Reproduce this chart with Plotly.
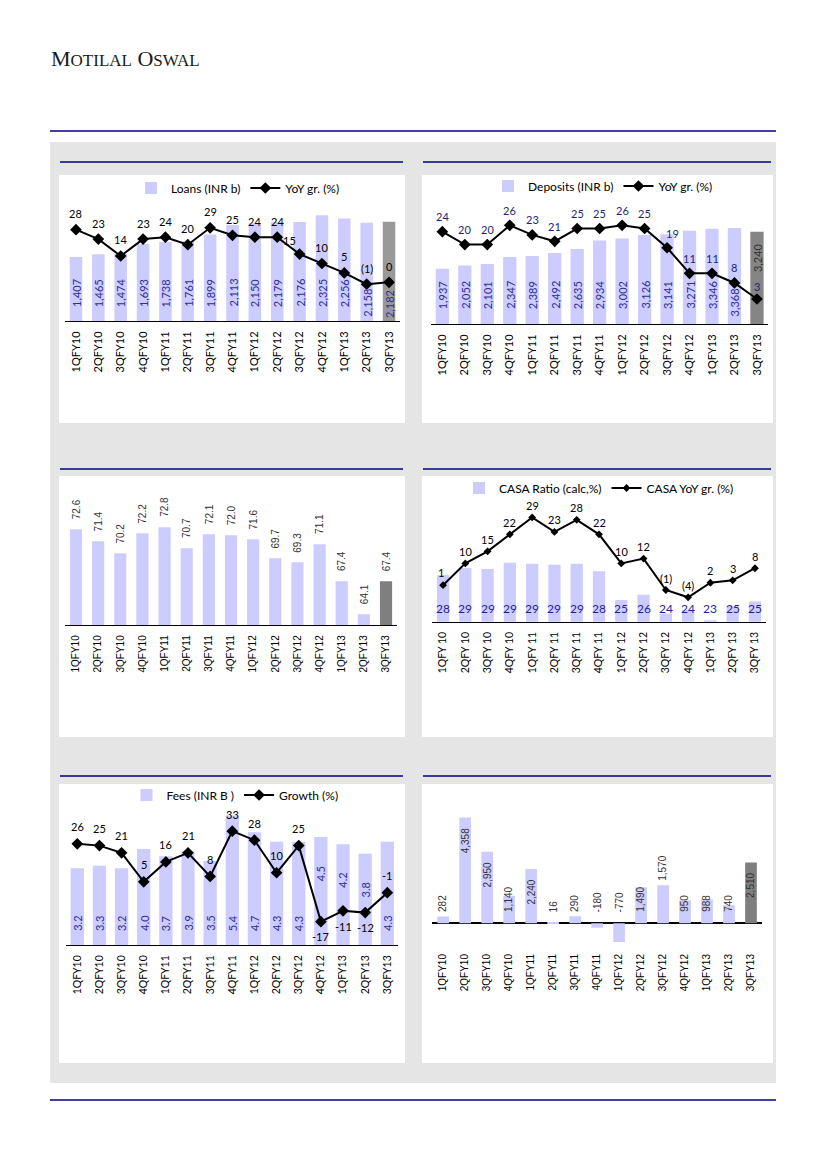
import plotly.graph_objects as go

OFF = 8            # browser body margin
W, H = 826 - 16, 1169 - 16


def fx(v):
    return (v - OFF) / W


def fy(v):
    return 1 - (v - OFF) / H


# ---------------- data ----------------
quarters = ["1QFY10", "2QFY10", "3QFY10", "4QFY10", "1QFY11", "2QFY11", "3QFY11", "4QFY11",
            "1QFY12", "2QFY12", "3QFY12", "4QFY12", "1QFY13", "2QFY13", "3QFY13"]
casa_quarters = ["1QFY 10", "2QFY 10", "3QFY 10", "4QFY 10", "1QFY 11", "2QFY 11", "3QFY 11", "4QFY 11",
                 "1QFY 12", "2QFY 12", "3QFY 12", "4QFY 12", "1QFY 13", "2QFY 13", "3QFY 13"]

loans = [1407, 1465, 1474, 1693, 1738, 1761, 1899, 2113, 2150, 2179, 2176, 2325, 2256, 2158, 2182]
loans_yoy = [28, 23, 14, 23, 24, 20, 29, 25, 24, 24, 15, 10, 5, -1, 0]

deposits = [1937, 2052, 2101, 2347, 2389, 2492, 2635, 2934, 3002, 3126, 3141, 3271, 3346, 3368, 3240]
deposits_yoy = [24, 20, 20, 26, 23, 21, 25, 25, 26, 25, 19, 11, 11, 8, 3]

cd_ratio = [72.6, 71.4, 70.2, 72.2, 72.8, 70.7, 72.1, 72.0, 71.6, 69.7, 69.3, 71.1, 67.4, 64.1, 67.4]

casa_ratio = [28.0, 28.75, 28.65, 29.3, 29.2, 29.1, 29.2, 28.4, 25.35, 25.9, 23.9, 24.3, 23.2, 24.7, 25.2]
casa_yoy = [1, 10, 15, 22, 29, 23, 28, 22, 10, 12, -1, -4, 2, 3, 8]

fees = [3.2, 3.3, 3.2, 4.0, 3.7, 3.9, 3.5, 5.4, 4.7, 4.3, 4.3, 4.5, 4.2, 3.8, 4.3]
fees_growth = [26, 25, 21, 5, 16, 21, 8, 33, 28, 10, 25, -17, -11, -12, -1]

panel6_vals = [282, 4358, 2950, 1140, 2240, 16, 290, -180, -770, 1490, 1570, 950, 988, 740, 2510]

# ---------------- styles ----------------
LAV = "#ccccff"
NAVY = "#000080"
LBL_BLUE = "#2e2e99"
CAL = "Lato"
ARI = "Liberation Sans"

N = len(quarters)
loans_colors = [LAV] * (N - 1) + ["#999999"]
dep_colors = [LAV] * (N - 1) + ["#858585"]
cd_colors = [LAV] * (N - 1) + ["#7f7f7f"]
p6_colors = [LAV] * (N - 1) + ["#7f7f7f"]
fees_colors = [LAV] * N
casa_colors = [LAV] * N

# bar-label placement styles: "base" (inside at base), "end" (inside at top), "mid" (upper part)
loans_place = ["base"] * N
dep_place = ["base"] * (N - 1) + ["end"]
fees_place = ["base"] * 11 + ["mid", "mid", "mid", "base"]
p6_place = ["base", "end", "end", "base", "end", "base", "base", "base", "base", "base", "out",
            "base", "base", "base", "end"]
dep_lbl_colors = [LBL_BLUE] * (N - 1) + ["#333333"]

# base-label offsets above the baseline (px)
loans_base = [12] * 13 + [2, 1]
dep_base = [13] * 13 + [6, 13]
fees_base = [12] * N
casa_base = [4] * N
p6_base = [9] * N

# line-label offsets (px)
loans_dx = [0] * 10 + [-10] + [0] * 4
loans_dy = [16] * 10 + [14] + [16] * 4
dep_dx = [0] * 10 + [5] + [0] * 4
dep_dy = [15] * 10 + [14] + [15] * 3 + [12]
casa_dx = [-2] + [0] * 14
casa_dy = [13] + [12] * 14
fees_dx = [0] * N
fees_dy = [17] * 11 + [-15, -16, -15, 17]

fig = go.Figure()
annotations = []

RANGES = {
    "y": [0, 2660], "y2": [-20.6, 43.8],
    "y3": [0, 4351], "y4": [-4.81, 33.9],
    "y5": [63.0, 76.53],
    "y6": [23.04, 35.99], "y7": [-14.09, 36.2],
    "y8": [0, 6.04], "y9": [-29.9, 50.2],
    "y10": [-854, 5497],
}


def paren(v):
    return f"({abs(v)})" if v < 0 else f"{v}"


def bar_trace(xa, ya, cats, vals, colors, width, name=None, legend=None, showlegend=False):
    fig.add_trace(go.Bar(
        x=cats, y=vals, marker=dict(color=colors, line=dict(width=0)), width=width,
        xaxis=xa, yaxis=ya, name=name, legend=legend, showlegend=showlegend,
        cliponaxis=False, hoverinfo="skip"))


def bar_labels(xa, ya, cats, vals, texts, places, colors, font, shifts, angle=-90):
    ref_base = max(RANGES[ya][0], 0)
    for c, v, t, p, col, bs in zip(cats, vals, texts, places, colors, shifts):
        if p == "end":
            y, yanc, ys = v, "top", -9
        elif p == "mid":
            y, yanc, ys = v, "top", -27
        elif p == "out":
            y, yanc, ys = v, "bottom", 2
        elif p == "above":
            y, yanc, ys = v, "bottom", 8
        else:
            y, yanc, ys = ref_base, "bottom", bs
        annotations.append(dict(x=c, y=y, xref=xa, yref=ya, text=t, showarrow=False,
                                textangle=angle, xanchor="center", yanchor=yanc, yshift=ys,
                                font=dict(family=font[0], size=font[1], color=col)))


def line_trace(xa, ya, cats, vals, name, legend, msize=9, lw=2):
    fig.add_trace(go.Scatter(
        x=cats, y=vals, mode="lines+markers", name=name, legend=legend,
        line=dict(color="black", width=lw),
        marker=dict(symbol="diamond", size=msize, color="black"),
        xaxis=xa, yaxis=ya, cliponaxis=False, hoverinfo="skip"))


def line_labels(xa, ya, cats, vals, texts, dxs, dys, color, size=11):
    for c, v, t, dx, dy in zip(cats, vals, texts, dxs, dys):
        annotations.append(dict(x=c, y=v, xref=xa, yref=ya, text=t, showarrow=False,
                                xanchor="center", yanchor="middle", xshift=dx, yshift=dy,
                                font=dict(family=CAL, size=size, color=color)))


# Panel 1: Loans
bar_trace("x", "y", quarters, loans, loans_colors, 0.56, "Loans (INR b)", "legend", True)
bar_labels("x", "y", quarters, loans, [f"{v:,}" for v in loans], loans_place,
           [LBL_BLUE] * N, (CAL, 11), loans_base)
line_trace("x", "y2", quarters, loans_yoy, "YoY gr. (%)", "legend")
line_labels("x", "y2", quarters, loans_yoy, [paren(v) for v in loans_yoy], loans_dx, loans_dy, "black")

# Panel 2: Deposits
bar_trace("x2", "y3", quarters, deposits, dep_colors, 0.59, "Deposits (INR b)", "legend2", True)
bar_labels("x2", "y3", quarters, deposits, [f"{v:,}" for v in deposits], dep_place,
           dep_lbl_colors, (CAL, 11), dep_base)
line_trace("x2", "y4", quarters, deposits_yoy, "YoY gr. (%)", "legend2")
line_labels("x2", "y4", quarters, deposits_yoy, [paren(v) for v in deposits_yoy], dep_dx, dep_dy,
            "#1f1f7a")

# Panel 3: CD ratio
bar_trace("x3", "y5", quarters, cd_ratio, cd_colors, 0.55)
bar_labels("x3", "y5", quarters, cd_ratio, [f"{v:.1f}" for v in cd_ratio], ["above"] * N,
           ["#333333"] * N, (ARI, 10), [0] * N)

# Panel 4: CASA
bar_trace("x4", "y6", casa_quarters, casa_ratio, casa_colors, 0.55, "CASA Ratio (calc,%)",
          "legend3", True)
bar_labels("x4", "y6", casa_quarters, casa_ratio, [f"{v:.0f}" for v in casa_ratio], ["base"] * N,
           ["#1f1f99"] * N, (CAL, 12), casa_base, angle=0)
line_trace("x4", "y7", casa_quarters, casa_yoy, "CASA YoY gr. (%)", "legend3", msize=6, lw=2)
line_labels("x4", "y7", casa_quarters, casa_yoy, [paren(v) for v in casa_yoy], casa_dx, casa_dy,
            "black")

# Panel 5: Fees
bar_trace("x5", "y8", quarters, fees, fees_colors, 0.6, "Fees (INR B )", "legend4", True)
bar_labels("x5", "y8", quarters, fees, [f"{v:.1f}" for v in fees], fees_place,
           [LBL_BLUE] * N, (CAL, 11), fees_base)
line_trace("x5", "y9", quarters, fees_growth, "Growth (%)", "legend4")
line_labels("x5", "y9", quarters, fees_growth, [str(v) for v in fees_growth], fees_dx, fees_dy,
            "black")

# Panel 6
bar_trace("x6", "y10", quarters, panel6_vals, p6_colors, 0.53)
bar_labels("x6", "y10", quarters, panel6_vals, [f"{v:,}" for v in panel6_vals], p6_place,
           ["#333333"] * N, (ARI, 10), p6_base)

# header
annotations.append(dict(
    x=fx(49), y=fy(59), xref="paper", yref="paper", xanchor="left", yanchor="middle",
    showarrow=False,
    text="M<span style='font-size:17px'>OTILAL</span> O<span style='font-size:17px'>SWAL</span>",
    font=dict(family="Liberation Serif", size=22, color="#1a1a1a")))

# ---------------- layout shapes ----------------
shapes = []


def rect(x0, y0, x1, y1, color):
    shapes.append(dict(type="rect", xref="paper", yref="paper", x0=fx(x0), x1=fx(x1),
                       y0=fy(y1), y1=fy(y0), fillcolor=color, line=dict(width=0), layer="below"))


def hline(x0, x1, y, color, w):
    shapes.append(dict(type="line", xref="paper", yref="paper", x0=fx(x0), x1=fx(x1),
                       y0=fy(y), y1=fy(y), line=dict(color=color, width=w), layer="below"))


hline(50, 776, 131, NAVY, 1.5)
rect(50, 142, 776, 1083, "#e5e5e5")
for (t, b) in [(175, 423), (476, 737), (784, 1063)]:
    rect(59, t, 405, b, "white")
    rect(422, t, 773, b, "white")
for y in [162, 469, 776]:
    hline(60, 403, y, NAVY, 1.3)
    hline(423, 771, y, NAVY, 1.3)
hline(50, 776, 1100, NAVY, 1.5)


def xaxis(x0, x1, anchor, font, show_line=True, cats=quarters):
    return dict(domain=[fx(x0), fx(x1)], anchor=anchor, type="category",
                categoryorder="array", categoryarray=cats, range=[-0.5, 14.5],
                tickangle=-90, showline=show_line, linecolor="black", linewidth=1,
                ticks="outside", ticklen=5, tickcolor="rgba(0,0,0,0)",
                tickfont=dict(family=font[0], size=font[1], color="black"),
                showgrid=False, zeroline=False, fixedrange=True)


def yaxis(top, bottom, key, overlay=None, zl=False):
    d = dict(domain=[fy(bottom), fy(top)], range=RANGES[key], showgrid=False, zeroline=zl,
             zerolinecolor="black", zerolinewidth=1.5, showticklabels=False, ticks="",
             showline=False, fixedrange=True)
    if overlay:
        d.update(overlaying=overlay, side="right")
    return d


def legend(xc, yc):
    return dict(orientation="h", x=fx(xc), y=fy(yc), xanchor="center", yanchor="middle",
                bgcolor="rgba(0,0,0,0)", font=dict(family=CAL, size=12, color="black"),
                itemwidth=30, tracegroupgap=0, traceorder="normal")


fig.update_layout(
    width=W, height=H, margin=dict(l=0, r=0, t=0, b=0),
    paper_bgcolor="white", plot_bgcolor="rgba(0,0,0,0)",
    barmode="overlay", showlegend=True,
    xaxis=xaxis(64.8, 400.2, "y", (CAL, 11)),
    yaxis=yaxis(200, 321, "y"),
    yaxis2=yaxis(200, 321, "y2", overlay="y"),
    xaxis2=xaxis(431.1, 768.2, "y3", (CAL, 11)),
    yaxis3=yaxis(200, 324, "y3"),
    yaxis4=yaxis(200, 324, "y4", overlay="y3"),
    xaxis3=xaxis(64.9, 397.1, "y5", (ARI, 10)),
    yaxis5=yaxis(490, 625.3, "y5"),
    xaxis4=xaxis(431.9, 766.1, "y6", (CAL, 10.5), cats=casa_quarters),
    yaxis6=yaxis(500, 621.7, "y6"),
    yaxis7=yaxis(500, 621.7, "y7", overlay="y6"),
    xaxis5=xaxis(66.2, 398.4, "y8", (CAL, 10.5)),
    yaxis8=yaxis(800, 945, "y8"),
    yaxis9=yaxis(800, 945, "y9", overlay="y8"),
    xaxis6=xaxis(432.2, 762, "y10", (ARI, 10), show_line=False),
    yaxis10=yaxis(790, 944, "y10", zl=True),
    legend=legend(238, 188),
    legend2=legend(603, 186),
    legend3=legend(599, 488),
    legend4=legend(235, 795),
    shapes=shapes,
    annotations=annotations,
)

fig.write_html("out.html")
